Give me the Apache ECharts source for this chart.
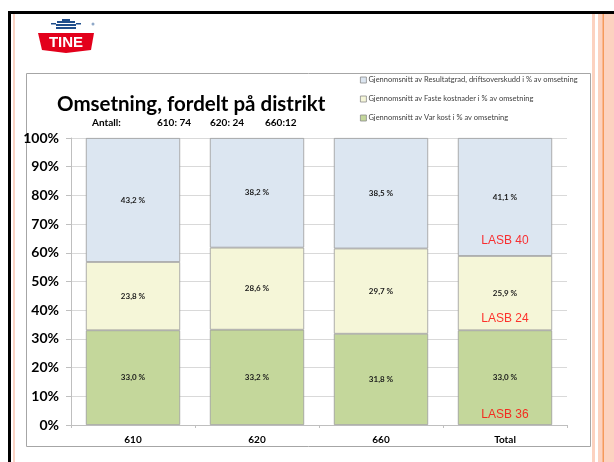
<!DOCTYPE html>
<html>
<head>
<meta charset="utf-8">
<script src="https://cdn.jsdelivr.net/npm/echarts@6/dist/echarts.min.js"></script>
<style>
  html, body { margin: 0; padding: 0; background: #fff; }
  #chart { width: 614px; height: 462px; }
</style>
</head>
<body>
<div id="chart"></div>
<script>
const categories = ['610', '620', '660', 'Total']
const varKost = [33.0, 33.2, 31.8, 33.0]
const fasteKostnader = [23.8, 28.6, 29.7, 25.9]
const resultatgrad = [43.2, 38.2, 38.5, 41.1]
const yTicks = { min: 0, max: 100, interval: 10 }
const seriesNames = [
  'Gjennomsnitt av Var kost i % av omsetning',
  'Gjennomsnitt av Faste kostnader i % av omsetning',
  'Gjennomsnitt av Resultatgrad, driftsoverskudd i % av omsetning',
]
const lasbLabels = ['LASB 40', 'LASB 24', 'LASB 36']
const lasbValues = [64.1, 36.9, 3.5]
const antall = ['Antall:', '610: 74', '620: 24', '660:12']

const colors = ['#c4d79b', '#f5f6d8', '#dce6f1']
const font = 'Lato, "Open Sans", sans-serif'

const chart = echarts.init(document.getElementById('chart'))

function pct(v) {
  return v.toFixed(1).replace('.', ',') + ' %'
}

function barSeries(name, data, color) {
  return {
    name,
    type: 'bar',
    stack: 'total',
    barWidth: '76%',
    data,
    itemStyle: { color, borderColor: '#9a9a9a', borderWidth: 0.8 },
    label: {
      show: true,
      position: 'inside',
      formatter: (p) => pct(p.value),
      fontFamily: font,
      fontSize: 8,
      fontWeight: 'bold',
      color: '#1a1a1a',
    },
  }
}

const antallX = [87, 152, 205, 260]

const option = {
  animation: false,
  backgroundColor: '#fff',
  title: [
    {
      text: 'Omsetning, fordelt på distrikt',
      left: 52,
      top: 89,
      textStyle: { fontFamily: font, fontSize: 20.5, fontWeight: 'bold', color: '#000' },
    },
    ...antall.map((t, i) => ({
      text: t,
      left: antallX[i],
      top: 113,
      textStyle: { fontFamily: font, fontSize: 10, fontWeight: 'bold', color: '#000' },
    })),
  ],
  legend: {
    orient: 'vertical',
    left: 355,
    top: 71,
    itemGap: 11,
    itemWidth: 6,
    itemHeight: 6,
    icon: 'rect',
    data: [seriesNames[2], seriesNames[1], seriesNames[0]],
    itemStyle: { borderColor: '#8a8a8a', borderWidth: 0.8 },
    textStyle: { fontFamily: font, fontSize: 7.5, color: '#404040', padding: [0, 0, 0, -3] },
  },
  grid: { left: 71, right: 47, top: 138, bottom: 37 },
  xAxis: {
    type: 'category',
    data: categories,
    axisLine: { lineStyle: { color: '#bfbfbf' } },
    axisTick: { show: true, length: 3, lineStyle: { color: '#bfbfbf' } },
    axisLabel: { fontFamily: font, fontSize: 10, fontWeight: 'bold', color: '#000', margin: 10 },
  },
  yAxis: {
    type: 'value',
    min: yTicks.min,
    max: yTicks.max,
    interval: yTicks.interval,
    axisLine: { show: true, lineStyle: { color: '#bfbfbf' } },
    axisTick: { show: true, length: 5, lineStyle: { color: '#bfbfbf' } },
    axisLabel: {
      formatter: '{value}%',
      fontFamily: font,
      fontSize: 14,
      fontWeight: 'bold',
      color: '#000',
      margin: 12,
    },
    splitLine: { lineStyle: { color: '#d9d9d9' } },
  },
  series: [
    barSeries(seriesNames[0], varKost, colors[0]),
    barSeries(seriesNames[1], fasteKostnader, colors[1]),
    barSeries(seriesNames[2], resultatgrad, colors[2]),
    {
      type: 'scatter',
      symbolSize: 0,
      data: lasbValues.map((v) => ['Total', v]),
      label: {
        show: true,
        position: 'inside',
        formatter: (p) => lasbLabels[p.dataIndex],
        fontFamily: 'Liberation Sans, Arial, sans-serif',
        fontSize: 12,
        color: '#ff0000',
      },
      z: 5,
    },
  ],
  graphic: [
    // slide frame
    { type: 'rect', shape: { x: 8, y: 11, width: 606, height: 3 }, style: { fill: '#000' } },
    { type: 'rect', shape: { x: 8, y: 11, width: 3, height: 451 }, style: { fill: '#000' } },
    { type: 'rect', shape: { x: 13, y: 14, width: 2, height: 448 }, style: { fill: '#fbd3c4' } },
    { type: 'rect', shape: { x: 592, y: 14, width: 3, height: 448 }, style: { fill: '#fcd2c0' } },
    { type: 'rect', shape: { x: 598, y: 14, width: 16, height: 448 }, style: { fill: '#fcd2c0' } },
    { type: 'rect', shape: { x: 602.5, y: 14, width: 1.5, height: 448 }, style: { fill: '#f59a5c' } },
    // chart box
    { type: 'rect', shape: { x: 26.5, y: 73.5, width: 564, height: 373 }, style: { fill: 'none', stroke: '#a6a6a6', lineWidth: 1 }, z: -1 },
    // TINE logo
    { type: 'polygon', shape: { points: [[38, 33], [94, 33], [91, 50], [66, 53], [42, 50]] }, style: { fill: '#e3001b' } },
    { type: 'text', style: { x: 66, y: 43, text: 'TINE', fill: '#fff', font: 'bold 15px "Liberation Sans", Arial, sans-serif', align: 'center', verticalAlign: 'middle' } },
    { type: 'rect', shape: { x: 57, y: 21, width: 18, height: 2 }, style: { fill: '#1f4e8c' } },
    { type: 'rect', shape: { x: 56, y: 24, width: 20, height: 2 }, style: { fill: '#1f4e8c' } },
    { type: 'rect', shape: { x: 56, y: 27, width: 20, height: 2 }, style: { fill: '#1f4e8c' } },
    { type: 'rect', shape: { x: 51, y: 23, width: 5, height: 1.5 }, style: { fill: '#1f4e8c' } },
    { type: 'rect', shape: { x: 76, y: 23, width: 5, height: 1.5 }, style: { fill: '#1f4e8c' } },
    { type: 'rect', shape: { x: 62, y: 19, width: 8, height: 2 }, style: { fill: '#1f4e8c' } },
    { type: 'circle', shape: { cx: 93, cy: 24, r: 1.5 }, style: { fill: '#8fa8c8' } },
  ],
}

chart.setOption(option)
</script>
</body>
</html>
